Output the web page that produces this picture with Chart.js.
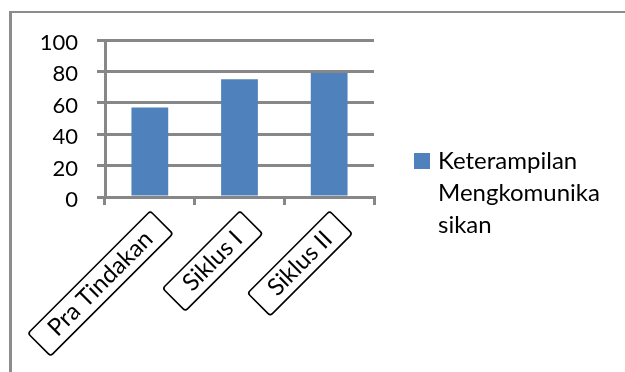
<!DOCTYPE html>
<html><head><meta charset="utf-8">
<script src="https://cdn.jsdelivr.net/npm/chart.js@4/dist/chart.umd.min.js"></script>
<style>
html,body{margin:0;padding:0;background:#fff;}
#wrap{position:relative;width:625px;height:372px;overflow:hidden;background:#fff;}
#frame{position:absolute;left:9px;top:11px;width:800px;height:500px;border-top:2px solid #8c8c8c;border-left:3px solid #8c8c8c;box-sizing:border-box;}
#c{position:absolute;left:0;top:0;}
.lg-box{position:absolute;left:414px;top:153px;width:16px;height:16px;}
.lg-text{position:absolute;left:438px;top:144px;font-family:Lato,sans-serif;font-size:24px;line-height:32px;color:#000;white-space:nowrap;}
</style></head>
<body><div id="wrap"><div id="frame"></div><canvas id="c" width="625" height="372"></canvas><div class="lg-box" id="lgBox"></div><div class="lg-text" id="lgText"></div></div>
<script>
const categories = ['Pra Tindakan', 'Siklus I', 'Siklus II'];
const seriesName = 'Keterampilan Mengkomunikasikan';
const values = [57, 75, 79];
const yMin = 0, yMax = 100, yStep = 20;

const FONT = 'Lato';
const GRID = '#878787';
const BAR = '#4F81BD';

// draws the framed boxes around the rotated category labels, following the scale's own label positions
const boxPlugin = {
  id: 'labelBoxes',
  afterDraw(chart) {
    const sc = chart.scales.x;
    const ctx = chart.ctx;
    const items = sc.getLabelItems ? sc.getLabelItems() : sc._labelItems;
    if (!items) return;
    const padL = 18, padR = 18, h = 32;
    items.forEach(it => {
      const o = it.options;
      const [tx, ty] = o.translation;
      ctx.save();
      ctx.font = it.font.string;
      const w = ctx.measureText(String(it.label)).width;
      ctx.translate(tx, ty);
      ctx.rotate(o.rotation);
      ctx.lineWidth = 1.6;
      ctx.strokeStyle = '#000';
      ctx.lineJoin = 'round';
      const x0 = -(w + padL), y0 = it.textOffset - h / 2;
      ctx.beginPath();
      if (ctx.roundRect) ctx.roundRect(x0, y0, w + padL + padR, h, 3); else ctx.rect(x0, y0, w + padL + padR, h);
      ctx.stroke();
      ctx.restore();
    });
  }
};

const chart = new Chart(document.getElementById('c'), {
  type: 'bar',
  data: {
    labels: categories,
    datasets: [{ label: seriesName, data: values, backgroundColor: BAR, borderWidth: 0, categoryPercentage: 1, barPercentage: 0.41 }]
  },
  options: {
    responsive: false, animation: false, devicePixelRatio: 1,
    layout: { padding: { left: 0, top: 40, right: 251, bottom: 0 } },
    plugins: { legend: { display: false }, tooltip: { enabled: false } },
    scales: {
      x: {
        grid: { offset: true, drawOnChartArea: false, drawTicks: true, tickLength: 8, color: GRID, lineWidth: 3 },
        border: { display: true, color: GRID, width: 3 },
        ticks: { color: '#000', font: { family: FONT, size: 24 }, minRotation: 45, maxRotation: 45, padding: 20, labelOffset: -1, autoSkip: false },
        afterFit(s) { s.height = 372 - 197; s.paddingLeft = 0; s.paddingRight = 0; }
      },
      y: {
        min: yMin, max: yMax,
        grid: { color: GRID, lineWidth: 3, tickLength: 8, drawTicks: true },
        border: { display: true, color: GRID, width: 3 },
        ticks: { stepSize: yStep, color: '#000', font: { family: FONT, size: 22 }, padding: 19, labelOffset: 3 },
        afterFit(s) { s.width = 105; s.paddingTop = 0; s.paddingBottom = 0; }
      }
    }
  },
  plugins: [boxPlugin]
});

// legend (HTML), wrapped to the same width as the original legend
(function(){
  const box = document.getElementById('lgBox');
  box.style.background = chart.data.datasets[0].backgroundColor;
  const cv = document.createElement('canvas').getContext('2d');
  cv.font = '24px ' + FONT;
  const maxW = 166;
  const lines = [];
  let cur = '';
  chart.data.datasets[0].label.split(' ').forEach(word => {
    const trial = cur ? cur + ' ' + word : word;
    if (cv.measureText(trial).width <= maxW) { cur = trial; return; }
    if (cur) { lines.push(cur); cur = ''; }
    let piece = '';
    for (const ch of word) {
      if (cv.measureText(piece + ch).width > maxW && piece) { lines.push(piece); piece = ch; }
      else piece += ch;
    }
    cur = piece;
  });
  if (cur) lines.push(cur);
  const t = document.getElementById('lgText');
  lines.forEach(l => { const d = document.createElement('div'); d.textContent = l; t.appendChild(d); });
})();
</script></body></html>
